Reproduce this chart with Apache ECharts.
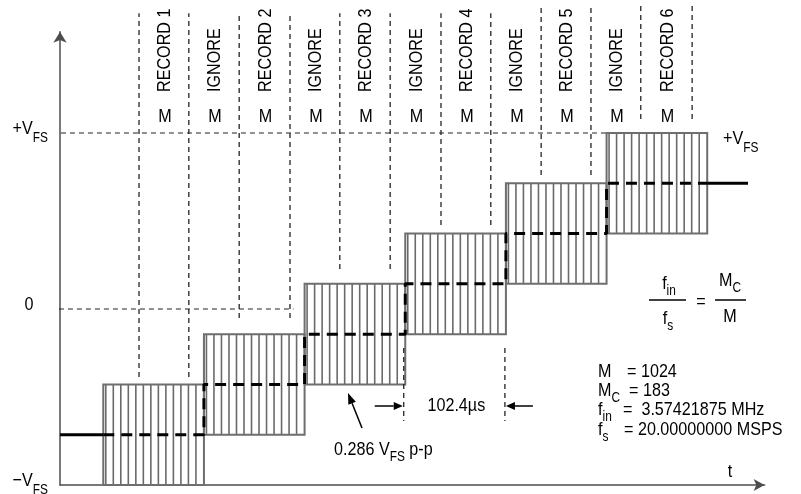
<!DOCTYPE html>
<html><head><meta charset="utf-8">
<script src="https://cdn.jsdelivr.net/npm/echarts@6/dist/echarts.min.js"></script>
<style>html,body{margin:0;padding:0;background:#fff}#c{width:801px;height:494px}</style>
</head><body><div id="c"></div>
<script>
// x: time in record lengths (M samples); y: level in units of V_FS
const boxStart = [0.86, 2.86, 4.86, 6.86, 8.86, 10.86];
const boxEnd   = [2.86, 4.86, 6.86, 8.86, 10.86, 12.86];
const boxLow   = [-1.0, -0.714, -0.429, -0.143, 0.143, 0.429];
const boxHigh  = [-0.429, -0.143, 0.143, 0.429, 0.714, 1.0];
const stepLevel = [-0.714, -0.429, -0.143, 0.143, 0.429, 0.714];
const leadIn  = [[0, -0.714], [0.86, -0.714]];
const leadOut = [[12.86, 0.714], [13.67, 0.714]];
const boundaryX      = [1.57, 2.56, 3.56, 4.57, 5.56, 6.56, 7.57, 8.56, 9.56, 10.55, 11.54, 12.56];
const boundaryBottom = [-0.386, -0.386, -0.051, -0.051, 0.227, 0.227, 0.477, 0.477, 0.761, 0.761, 1.08, 1.08];
const boundaryTop    = [1.68, 1.68, 1.68, 1.68, 1.68, 1.68, 1.68, 1.68, 1.73, 1.73, 1.73, 1.73];
const colLabels = ['RECORD 1','IGNORE','RECORD 2','IGNORE','RECORD 3','IGNORE','RECORD 4','IGNORE','RECORD 5','IGNORE','RECORD 6'];
const colSize = 'M';
const vfsLine  = [[-0.16, 1], [10.86, 1]];
const zeroLine = [[-0.2, 0], [4.64, 0]];
const yTickValues = [1, 0, -1];
const yTickLabels = ['{m|+V}{s|FS}', '{z|0}', '{m|\u2212V}{s|FS}'];
const dimBox = 3;          // box whose width is dimensioned
const dimText = '102.4\u00b5s';
const ppText = '{m|0.286 V}{t|FS}{m| p-p}';
const params = [
  ['{m|M}', '{m|= 1024}'],
  ['{m|M}{t|C}', '{m|= 183}'],
  ['{m|f}{t|in}', '{m|=  3.57421875 MHz}'],
  ['{m|f}{t|s}', '{m|= 20.00000000 MSPS}']
];

const FONT = "'Liberation Sans',Arial,sans-serif";
const F19 = '19px ' + FONT;
const SX = 0.85;   // narrow typeface look
const rich = {
  m: {fontSize: 19, fontFamily: FONT, color: '#000', padding: [0, 0, 8, 0]},
  z: {fontSize: 19, fontFamily: FONT, color: '#000', padding: [0, 17, 8, 0]},
  s: {fontSize: 14, fontFamily: FONT, color: '#000', padding: [10, 0, 0, 0]},
  t: {fontSize: 14, fontFamily: FONT, color: '#000', padding: [6, 0, 0, 0]}
};
const AX = '#4d4d4d';

function arrow(x1, y1, x2, y2, len, w, color) {
  const dx = x2 - x1, dy = y2 - y1, L = Math.hypot(dx, dy), ux = dx / L, uy = dy / L;
  const bx = x2 - ux * len, by = y2 - uy * len;
  return [
    {type: 'line', shape: {x1: x1, y1: y1, x2: bx, y2: by}, style: {stroke: color, lineWidth: 1.5}},
    {type: 'polygon', shape: {points: [[x2, y2], [bx - uy * w / 2, by + ux * w / 2], [bx + uy * w / 2, by - ux * w / 2]]}, style: {fill: color}}
  ];
}
function T(x, y, text, align, rotation) {
  return {type: 'text', x: x, y: y, z: 50, scaleX: SX, rotation: rotation || 0,
    style: {text: text, rich: rich, align: align || 'left', verticalAlign: 'middle', font: F19, fill: '#000'}};
}

const chart = echarts.init(document.getElementById('c'), null, {renderer: 'canvas', width: 801, height: 494});

const graphic = [];
// formula  f_in / f_s = M_C / M
graphic.push(T(669, 288, '{m|f}{t|in}', 'center'));
graphic.push({type: 'line', z: 50, shape: {x1: 649, y1: 300, x2: 686, y2: 300}, style: {stroke: '#000', lineWidth: 1.5}});
graphic.push(T(668, 323, '{m|f}{t|s}', 'center'));
graphic.push(T(701, 306, '{m|=}', 'center'));
graphic.push(T(730, 285, '{m|M}{t|C}', 'center'));
graphic.push({type: 'line', z: 50, shape: {x1: 715, y1: 300, x2: 746, y2: 300}, style: {stroke: '#000', lineWidth: 1.5}});
graphic.push(T(730, 321, '{m|M}', 'center'));
// parameter block
const rowY = [376, 395, 414, 434];
const eqX = [627, 629, 623, 624];
params.forEach((p, i) => {
  graphic.push(T(598, rowY[i], p[0]));
  graphic.push(T(eqX[i], rowY[i], p[1]));
});
// t label and right +VFS
graphic.push(T(730, 472, 't', 'center'));
graphic.push(T(723, 143, '{m|+V}{s|FS}'));
// 0.286 VFS p-p annotation
graphic.push(T(334, 454, ppText));
arrow(362, 428, 348, 393, 11, 8, '#000').forEach(e => { e.z = 50; graphic.push(e); });

const option = {
  animation: false,
  backgroundColor: '#fff',
  grid: {left: 60, right: 36.4, top: 31.8, bottom: 9},
  xAxis: {
    type: 'value', min: 0, max: 14,
    axisLine: {show: true, onZero: false, symbol: ['none', 'arrow'], symbolSize: [9, 11], lineStyle: {color: AX, width: 1.5}},
    axisTick: {show: false}, axisLabel: {show: false}, splitLine: {show: false}
  },
  yAxis: {
    type: 'value', min: -1, max: 1.575,
    axisLine: {show: true, onZero: false, symbol: ['none', 'arrow'], symbolSize: [10, 11], lineStyle: {color: AX, width: 1.5}},
    axisTick: {show: false}, splitLine: {show: false}, axisLabel: {show: false}
  },
  series: [
    { // hatched sample boxes
      type: 'custom', z: 2, silent: true,
      data: boxStart.map((s, i) => [s, boxEnd[i], boxLow[i], boxHigh[i]]),
      renderItem(params, api) {
        const p0 = api.coord([api.value(0), api.value(3)]);
        const p1 = api.coord([api.value(1), api.value(2)]);
        const x0 = p0[0], y0 = p0[1], x1 = p1[0], y1 = p1[1], w = x1 - x0;
        const ch = [];
        const sp = w / 13.4;
        for (let x = x0 + 2.5; x < x1 - 3; x += sp) {
          ch.push({type: 'line', shape: {x1: x, y1: y0, x2: x, y2: y1}, style: {stroke: '#6a6a6a', lineWidth: 1.6}});
        }
        ch.push({type: 'rect', shape: {x: x0, y: y0, width: w, height: y1 - y0}, style: {fill: 'none', stroke: '#6e6e6e', lineWidth: 2}});
        return {type: 'group', children: ch};
      }
    },
    { // record boundaries
      type: 'custom', z: 1, silent: true, clip: false,
      data: boundaryX.map((x, i) => [x, boundaryBottom[i], boundaryTop[i]]),
      renderItem(params, api) {
        const a = api.coord([api.value(0), api.value(1)]);
        const b = api.coord([api.value(0), api.value(2)]);
        return {type: 'line', shape: {x1: a[0], y1: a[1], x2: b[0], y2: b[1]}, style: {stroke: '#111', lineWidth: 1.2, lineDash: [5, 4]}};
      }
    },
    { // column labels
      type: 'custom', z: 3, silent: true, clip: false,
      data: colLabels.map((t, i) => [(boundaryX[i] + boundaryX[i + 1]) / 2, i]),
      renderItem(params, api) {
        const x = api.coord([api.value(0), 0])[0] + 1;
        const t = colLabels[api.value(1)];
        return {type: 'group', children: [T(x, 92, t, 'left', Math.PI / 2), T(x, 117, colSize, 'center')]};
      }
    },
    { // y level labels
      type: 'custom', z: 3, silent: true, clip: false,
      data: yTickValues.map((v, i) => [v, i]),
      renderItem(params, api) {
        const p = api.coord([0, api.value(0)]);
        return T(p[0] - 12, p[1], yTickLabels[api.value(1)], 'right');
      }
    },
    { // 102.4us dimension under a box
      type: 'custom', z: 3, silent: true, clip: false,
      data: [[boxStart[dimBox], boxEnd[dimBox]]],
      renderItem(params, api) {
        const xa = api.coord([api.value(0), 0])[0] - 1.5;
        const xb = api.coord([api.value(1), 0])[0] - 1;
        const ch = [
          {type: 'line', shape: {x1: xa, y1: 348, x2: xa, y2: 421}, style: {stroke: '#111', lineWidth: 1.2, lineDash: [5, 4]}},
          {type: 'line', shape: {x1: xb, y1: 348, x2: xb, y2: 421}, style: {stroke: '#111', lineWidth: 1.2, lineDash: [5, 4]}},
          T((xa + xb) / 2 + 2, 406, dimText, 'center')
        ];
        return {type: 'group', children: ch.concat(arrow(xa - 29, 406, xa - 1, 406, 9, 8, '#000'), arrow(xb + 28, 406, xb + 1, 406, 9, 8, '#000'))};
      }
    },
    {type: 'line', z: 1, clip: false, silent: true, symbol: 'none', data: vfsLine, lineStyle: {color: '#222', width: 1, type: [5, 4]}},
    {type: 'line', z: 1, clip: false, silent: true, symbol: 'none', data: zeroLine, lineStyle: {color: '#222', width: 1, type: [5, 4]}},
    { // staircase of the sampled signal (dashed)
      type: 'line', z: 5, silent: true, symbol: 'none', step: 'end',
      data: stepLevel.map((v, i) => [boxStart[i], v]).concat([[boxEnd[boxEnd.length - 1], stepLevel[stepLevel.length - 1]]]),
      lineStyle: {color: '#000', width: 3, type: [11, 7]}
    },
    {type: 'line', z: 5, silent: true, symbol: 'none', data: leadIn, lineStyle: {color: '#000', width: 3}},
    {type: 'line', z: 5, silent: true, symbol: 'none', data: leadOut, lineStyle: {color: '#000', width: 3}}
  ],
  graphic: graphic
};
chart.setOption(option);
</script>
</body></html>
